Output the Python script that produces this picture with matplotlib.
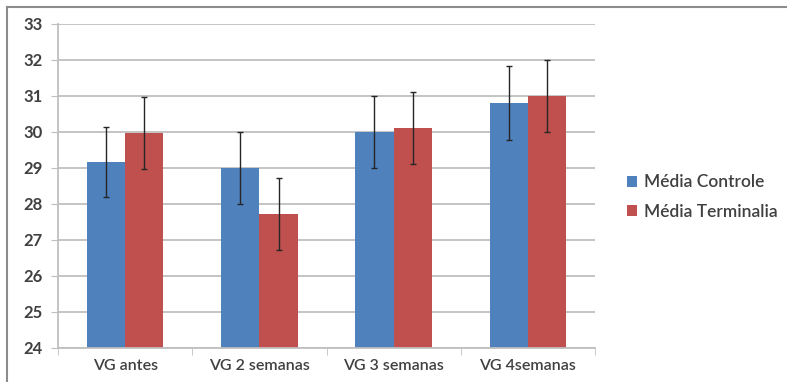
import matplotlib.pyplot as plt
from matplotlib.lines import Line2D
import numpy as np

plt.rcParams['font.family'] = ['Lato', 'DejaVu Sans']

categories = ["VG antes", "VG 2 semanas", "VG 3 semanas", "VG 4semanas"]
controle = [29.17, 29.0, 30.0, 30.8]
controle_err = [0.98, 1.0, 1.0, 1.03]
terminalia = [29.98, 27.73, 30.1, 31.0]
terminalia_err = [1.0, 1.0, 1.0, 1.0]

blue = "#4F81BD"
red = "#C0504D"
grid_c = "#BFBFBF"
text_c = "#404040"

fig = plt.figure(figsize=(7.87, 3.82), dpi=100)
ax = fig.add_axes([58 / 787, 1 - 348 / 382, (595 - 58) / 787, (348 - 24) / 382])

x = np.arange(len(categories))
w = 1 / 3.5
err_kw = dict(ecolor="#262626", elinewidth=1, capsize=2.5, capthick=1)
ax.bar(x - w / 2, controle, w, color=blue, yerr=controle_err,
       error_kw=err_kw, label="Média Controle", zorder=2)
ax.bar(x + w / 2, terminalia, w, color=red, yerr=terminalia_err,
       error_kw=err_kw, label="Média Terminalia", zorder=2)

ax.set_ylim(24, 33)
ax.set_xlim(-0.5, len(categories) - 0.5)
ax.set_yticks(range(24, 34))
ax.yaxis.grid(True, color=grid_c, linewidth=1.3, zorder=0)
ax.set_axisbelow(True)

ax.set_xticks(x)
ax.set_xticklabels(categories, fontweight="semibold")
ax.set_xticks(np.arange(-0.5, len(categories)), minor=True)
ax.tick_params(axis="x", which="major", length=0, pad=8, labelsize=11.5, labelcolor=text_c)
ax.tick_params(axis="x", which="minor", length=5, color=grid_c, direction="out")
ax.tick_params(axis="y", length=5, color=grid_c, labelsize=12, labelcolor=text_c, pad=6)
for lbl in ax.get_yticklabels():
    lbl.set_fontweight("bold")

for s in ["top", "right"]:
    ax.spines[s].set_visible(False)
for s in ["left", "bottom"]:
    ax.spines[s].set_color(grid_c)
    ax.spines[s].set_linewidth(1.3)

# outer chart frame
fig.add_artist(Line2D([7 / 787, 1], [1 - 7 / 382, 1 - 7 / 382], color="#8C8C8C", linewidth=1.5))
fig.add_artist(Line2D([7 / 787, 7 / 787], [0, 1 - 7 / 382], color="#8C8C8C", linewidth=1.5))

ax.legend(loc="center left", bbox_to_anchor=(611 / 787, 1 - 197 / 382), bbox_transform=fig.transFigure,
          frameon=False, handlelength=0.6, handleheight=0.6,
          handletextpad=0.4, labelspacing=0.75, labelcolor=text_c,
          prop={"size": 12.5, "weight": "semibold"})

fig.savefig("out.png", dpi=100)
